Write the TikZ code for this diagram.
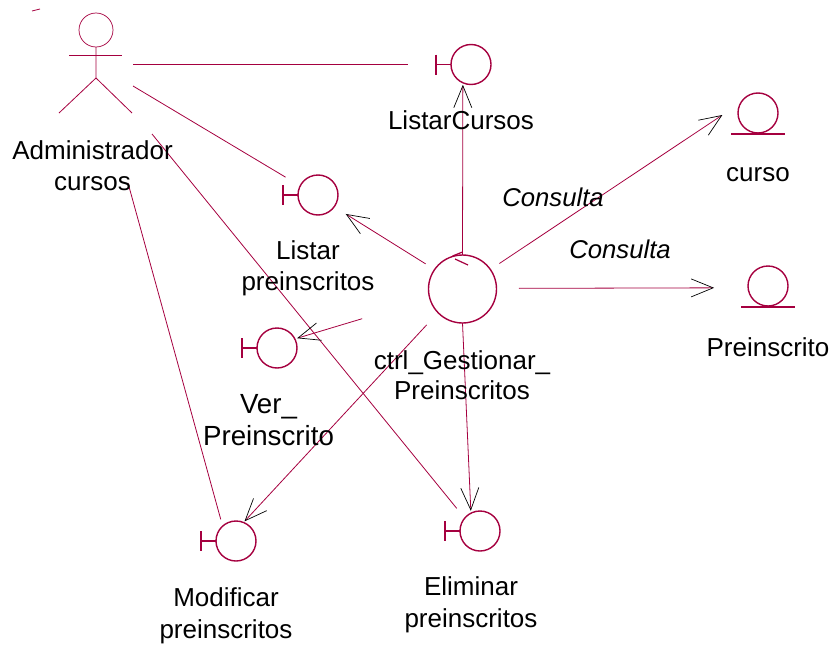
\documentclass[tikz,border=0pt]{standalone}
\usepackage{fontspec}
\setmainfont{Liberation Sans}
\usepackage{xcolor}
\usetikzlibrary{arrows.meta,positioning}
\definecolor{rosered}{HTML}{A5003F}
\begin{document}
\begin{tikzpicture}[x=1pt,y=-1pt]
\tikzset{
   icon/.style={
     circle, draw=rosered, line width=1.4pt,
     inner sep=0pt, outer sep=0pt,
     minimum size=40pt
   },
   ctrlicon/.style={
     icon, minimum size=68pt
   },
   link/.style={
     draw=rosered, line width=0.8pt
   },
   call/.style={
     link,
     -{Straight Barb[length=22pt,width=18pt,black,line width=0.7pt]}
   },
   lbl/.style={
     align=center, inner sep=0pt,
     font=\fontsize{26}{31}\selectfont
   }
}
\useasboundingbox (0,0) rectangle (833,645);
%
\node[icon] (listarcursos) at (471,64.5) {};
\node[icon] (listarpre) at (318,195) {};
\node[icon] (verpre) at (277,348) {};
\node[icon] (modpre) at (236,541) {};
\node[icon] (elipre) at (480,531) {};
\node[icon] (curso) at (758,113) {};
\node[icon] (preins) at (768,286) {};
\node[ctrlicon] (ctrl) at (462.5,289) {};

% boundary bars
\foreach \b in {listarcursos,listarpre,verpre,modpre,elipre}{
  \draw[icon, rectangle, minimum size=0pt] (\b.west) -- ++(-15,0) ++(0,-10) -- ++(0,20);
}
% entity bases
\foreach \e in {curso,preins}{
  \draw[icon, rectangle, minimum size=0pt] (\e.south) ++(-27,1) -- ++(54,0);
}
% control mark
\draw[link, line width=1.2pt] (ctrl.north) ++(-10,1) -- ++(10,-4) ++(-7.5,7) -- ++(13,6);

% actor
\draw[link, line width=0.7pt] (96,30) circle (17);
\draw[link] (96,47) -- (96,78) -- (59,113);
\draw[link] (96,78) -- (132,113);
\draw[link] (69,55) -- (122,55);
\draw[link] (32,11) -- (40,9);
\coordinate (actorA) at (133,64.5);
\coordinate (actorB) at (133,86);
\coordinate (actorC) at (152,134);
\coordinate (actorD) at (128,183);

% actor links
\draw[link, shorten >=43pt] (actorA) -- (listarcursos.180);
\draw[link, shorten >=17pt] (actorB) -- (listarpre.153);
\draw[link, shorten >=12.6pt] (actorC) -- (elipre.140);
\draw[link, shorten <=7pt] (modpre.132) -- (actorD);

% control links
\draw[call, shorten >=2pt] (ctrl.north) -- (listarcursos.246);
\draw[call, shorten <=10.6pt, shorten >=13.6pt] (ctrl.145) -- (listarpre.-36);
\draw[call, shorten <=70.6pt, shorten >=2.4pt] (ctrl.196) -- (verpre.27);
\draw[call, shorten <=16.6pt, shorten >=1.5pt] (ctrl.224) -- (modpre.68);
\draw[call, shorten >=2.4pt] (ctrl.south) -- (elipre.117);
\draw[call, shorten <=10.8pt, shorten >=22.2pt] (ctrl.35) -- (curso.149);
\draw[call, shorten <=22.5pt, shorten >=34pt] (ctrl.1) -- (preins.185);

% labels
\node[lbl] (actorlbl) at (92.5,165.5) {Administrador\\cursos};
\node[lbl] (lclbl) at (461,120) {ListarCursos};
\node[lbl] (lplbl) at (308,268.5) {Listar\\preinscritos};
\node[lbl, font=\fontsize{27.7}{32}\selectfont] (vplbl) at (268.5,420) {Ver\_\\Preinscrito};
\node[lbl, font=\fontsize{26}{30}\selectfont] (ctrllbl) at (462,375) {ctrl\_Gestionar\_\\Preinscritos};
\node[lbl] (cursolbl) at (758,174.5) {curso};
\node[lbl] (prelbl) at (768,347) {Preinscrito};
\node[lbl, font=\fontsize{26}{32}\selectfont] (modlbl) at (226,615.5) {Modificar\\preinscritos};
\node[lbl, font=\fontsize{26}{32}\selectfont] (elilbl) at (471,605) {Eliminar\\preinscritos};
\node[lbl, font=\fontsize{25.7}{31}\selectfont] (consultaA) at (553,197.5) {\itshape Consulta};
\node[lbl, font=\fontsize{25.7}{31}\selectfont] (consultaB) at (620,249.5) {\itshape Consulta};
\end{tikzpicture}
\end{document}
